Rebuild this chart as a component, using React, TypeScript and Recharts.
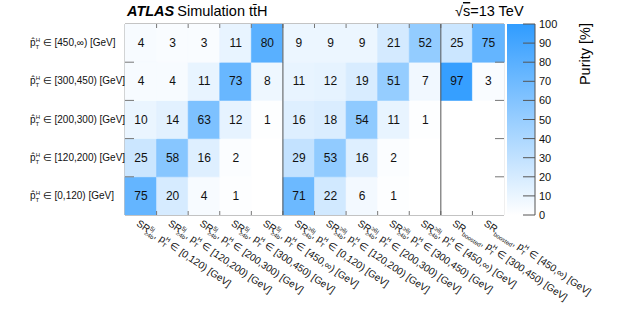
import React from 'react';
import {
  BarChart,
  Bar,
  XAxis,
  YAxis,
  Cell,
  LabelList,
  ReferenceLine,
  ReferenceArea,
} from 'recharts';

// Truth-level Higgs pT bins (rows, bottom to top)
const truthBins = ['[0,120)', '[120,200)', '[200,300)', '[300,450)', '[450,∞)'];

// Reco-level signal regions (columns)
const regionJets = ['5j', '5j', '5j', '5j', '5j', '≥6j', '≥6j', '≥6j', '≥6j', '≥6j', 'boosted', 'boosted'];
const regionBins = [
  '[0,120)', '[120,200)', '[200,300)', '[300,450)', '[450,∞)',
  '[0,120)', '[120,200)', '[200,300)', '[300,450)', '[450,∞)',
  '[300,450)', '[450,∞)',
];

// Purity [%] per truth bin, one value per signal region (null = empty cell)
const purity0to120 = [75, 20, 4, 1, null, 71, 22, 6, 1, null, null, null];
const purity120to200 = [25, 58, 16, 2, null, 29, 53, 16, 2, null, null, null];
const purity200to300 = [10, 14, 63, 12, 1, 16, 18, 54, 11, 1, null, null];
const purity300to450 = [4, 4, 11, 73, 8, 11, 12, 19, 51, 7, 97, 3];
const purity450toInf = [4, 3, 3, 11, 80, 9, 9, 9, 21, 52, 25, 75];

const purityRows = [purity0to120, purity120to200, purity200to300, purity300to450, purity450toInf];

// Columns where a new region group starts
const groupStarts = [5, 10];

const colourTicks = [0, 10, 20, 30, 40, 50, 60, 70, 80, 90, 100];

const FONT = '"Liberation Sans", Arial, Helvetica, sans-serif';
const TOP = [48, 156, 255];

function purityColor(v: number | null) {
  if (v == null) return '#ffffff';
  const f = v / 100;
  const c = TOP.map((t) => Math.round(255 + (t - 255) * f));
  return `rgb(${c[0]},${c[1]},${c[2]})`;
}

const chartData = regionBins.map((_, i) => {
  const entry: Record<string, number | null> = { col: i };
  purityRows.forEach((vals, r) => {
    entry[`r${r}`] = 1;
    entry[`p${r}`] = vals[i];
  });
  return entry;
});

const nCols = regionBins.length;
const nRows = truthBins.length;
const rowCentres = truthBins.map((_, r) => r + 0.5);
const innerCols = regionBins.slice(1).map((_, i) => i + 1);
const innerRows = truthBins.slice(1).map((_, i) => i + 1);

const supW = (s: string) => s.length * 3.4;

function CellLabel(props: any) {
  const { x, y, width, height, value } = props;
  if (value == null) return null;
  return (
    <text
      x={x + width / 2}
      y={y + height / 2 + 1}
      textAnchor="middle"
      dominantBaseline="middle"
      fontSize={12}
      fontFamily={FONT}
      fill="#111"
    >
      {value}
    </text>
  );
}

function ColumnLabel(props: any) {
  const { x, y, payload } = props;
  const i = Number(payload.value);
  const jets = regionJets[i];
  const boosted = jets === 'boosted';
  return (
    <text
      transform={`translate(${x - 5},${y + 10}) rotate(34)`}
      fontSize={10}
      fontFamily={FONT}
      fill="#111"
    >
      SR
      {boosted ? (
        <tspan fontSize={6} dy={3}>boosted</tspan>
      ) : (
        <>
          <tspan fontSize={6} dy={-4}>{jets}</tspan>
          <tspan fontSize={6} dx={-supW(jets)} dy={7}>≥4b</tspan>
        </>
      )}
      <tspan dy={-3}>, p</tspan>
      <tspan fontSize={6} dy={3}>T</tspan>
      <tspan fontSize={6} dx={-3.6} dy={-7}>H</tspan>
      <tspan dy={4}>{` ∈ ${regionBins[i]} [GeV]`}</tspan>
    </text>
  );
}

function RowLabel(props: any) {
  const { x, y, payload } = props;
  const r = Math.floor(payload.value);
  return (
    <text x={x - 95} y={y + 3} fontSize={10} fontFamily={FONT} fill="#111">
      p̂
      <tspan fontSize={6} dy={3}>T</tspan>
      <tspan fontSize={6} dx={-3.6} dy={-7}>H</tspan>
      <tspan dy={4}>{` ∈ ${truthBins[r]} [GeV]`}</tspan>
    </text>
  );
}

// short tick marks at both ends of a column boundary
function ColumnTicks(props: any) {
  const { x1, y1, y2 } = props;
  const top = Math.min(y1, y2);
  const bottom = Math.max(y1, y2);
  return (
    <g>
      <line x1={x1} x2={x1} y1={top} y2={top + 4} stroke="#777" />
      <line x1={x1} x2={x1} y1={bottom} y2={bottom - 4} stroke="#777" />
    </g>
  );
}

// short tick marks at both ends of a row boundary
function RowTicks(props: any) {
  const { x1, x2, y1 } = props;
  const left = Math.min(x1, x2);
  const right = Math.max(x1, x2);
  return (
    <g>
      <line x1={left} x2={left + 9} y1={y1} y2={y1} stroke="#777" />
      <line x1={right} x2={right - 9} y1={y1} y2={y1} stroke="#777" />
    </g>
  );
}

function ColourTick(props: any) {
  const { x, y, payload } = props;
  return (
    <g>
      <line x1={x - 12} x2={x} y1={y} y2={y} stroke="#555" />
      <text x={x + 4} y={y + 4} fontSize={11} fontFamily={FONT} fill="#111">
        {payload.value}
      </text>
    </g>
  );
}

export default function App() {
  return (
    <div style={{ position: 'absolute', left: 0, top: 0, width: 630, height: 317, background: '#fff' }}>
      <div style={{ position: 'absolute', left: 0, top: 0 }}>
        <BarChart
          width={630}
          height={317}
          data={chartData}
          margin={{ top: 24, right: 126, left: 0, bottom: 2 }}
          barCategoryGap={0}
          barGap={0}
        >
          <XAxis
            dataKey="col"
            interval={0}
            height={100}
            tickSize={0}
            tickMargin={0}
            axisLine={false}
            tickLine={false}
            tick={<ColumnLabel />}
          />
          <YAxis
            type="number"
            domain={[0, nRows]}
            allowDataOverflow
            ticks={rowCentres}
            interval={0}
            width={125}
            tickSize={0}
            tickMargin={0}
            axisLine={false}
            tickLine={false}
            tick={<RowLabel />}
          />
          {purityRows.map((vals, r) => (
            <Bar key={r} dataKey={`r${r}`} stackId="cells" isAnimationActive={false}>
              {vals.map((v, i) => (
                <Cell key={i} fill={purityColor(v)} stroke={purityColor(v)} strokeWidth={0.6} />
              ))}
              <LabelList dataKey={`p${r}`} content={<CellLabel />} />
            </Bar>
          ))}
          {innerCols.map((c) => (
            <ReferenceLine key={`c${c}`} x={c} position="start" shape={ColumnTicks} />
          ))}
          {innerRows.map((r) => (
            <ReferenceLine key={`r${r}`} y={r} shape={RowTicks} />
          ))}
          {groupStarts.map((c) => (
            <ReferenceLine key={`g${c}`} x={c} position="start" stroke="#555" strokeWidth={1} />
          ))}
          <ReferenceArea
            x1={0}
            x2={nCols - 1}
            y1={0}
            y2={nRows}
            fill="none"
            stroke="#888"
            ifOverflow="visible"
          />
        </BarChart>
      </div>

      <div style={{ position: 'absolute', left: 507, top: 0 }}>
        <BarChart
          width={123}
          height={317}
          data={[{ name: 'scale', v: 100 }]}
          margin={{ top: 24, right: 55, left: 0, bottom: 102 }}
          barCategoryGap={0}
        >
          <defs>
            <linearGradient id="purityGrad" x1="0" y1="1" x2="0" y2="0">
              <stop offset="0%" stopColor={purityColor(0)} />
              <stop offset="100%" stopColor={purityColor(100)} />
            </linearGradient>
          </defs>
          <XAxis dataKey="name" hide />
          <YAxis
            orientation="right"
            type="number"
            domain={[0, 100]}
            ticks={colourTicks}
            interval={0}
            width={40}
            tickSize={0}
            tickMargin={0}
            tickLine={false}
            axisLine={{ stroke: '#555' }}
            tick={<ColourTick />}
          />
          <Bar dataKey="v" fill="url(#purityGrad)" isAnimationActive={false} />
        </BarChart>
      </div>

      <svg width={630} height={317} style={{ position: 'absolute', left: 0, top: 0, pointerEvents: 'none' }}>
        <text x={127} y={16} fontFamily={FONT} fontSize={14.5} fill="#000">
          <tspan fontWeight="bold" fontStyle="italic">ATLAS</tspan>
          <tspan dx={3}>Simulation tt̄H</tspan>
        </text>
        <text x={455} y={16} fontFamily={FONT} fontSize={14.5} fill="#000">
          √<tspan textDecoration="overline">s</tspan>=13 TeV
        </text>
        <text
          transform="translate(590,23) rotate(-90)"
          textAnchor="end"
          fontFamily={FONT}
          fontSize={14.5}
          fill="#000"
        >
          Purity [%]
        </text>
      </svg>
    </div>
  );
}
